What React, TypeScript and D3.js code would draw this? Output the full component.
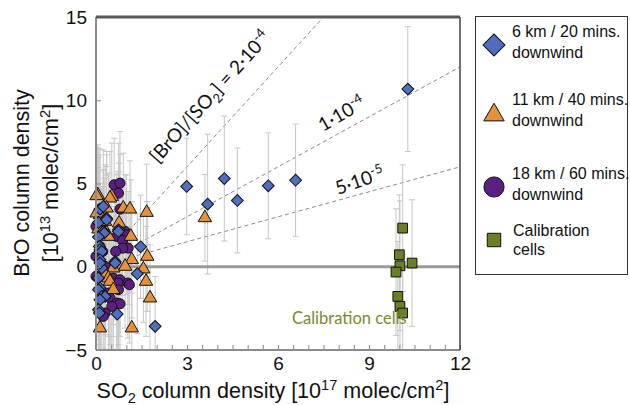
import React, { useEffect, useRef } from 'react';
import * as d3 from 'd3';

// [SO2 (1e17), BrO (1e13), BrO error]
type Pt = [number, number, number];

const km6: Pt[] = [
  [0.13, 3.46, 3.6], [0.24, 3.62, 3.4], [0.35, 2.92, 3.8], [0.08, 2.66, 3.9], [0.35, 2.82, 3.2],
  [0.24, 2.12, 3.7], [0.74, 2.22, 3.5], [0.74, 2.12, 3.0], [0.27, 2.02, 3.3], [0.08, 1.78, 3.9],
  [0.11, 1.22, 3.6], [0.13, 1.02, 3.2], [0.19, 0.92, 3.8], [0.63, 0.32, 3.1], [0.63, 0.22, 3.4],
  [0.13, 0.42, 3.9], [0.19, -0.08, 3.5], [0.13, 0.22, 3.0], [1.47, 1.2, 3.1], [1.36, -0.42, 3.6],
  [0.08, -0.68, 3.7], [0.13, -1.28, 3.4], [0.08, -1.38, 3.8], [0.19, -1.78, 3.1], [0.3, -1.78, 3.5],
  [0.13, -1.98, 3.9], [0.08, -2.58, 3.6], [0.11, -2.78, 3.2], [0.7, -2.84, 3.4], [1.95, -3.58, 3.0],
  [2.99, 4.82, 2.9], [3.68, 3.76, 4.2], [4.23, 5.3, 3.75], [4.66, 3.98, 3.15], [5.68, 4.86, 3.18],
  [6.58, 5.2, 3.37], [10.28, 10.67, 3.75],
];

const km11: Pt[] = [
  [0.06, 4.32, 3.0], [0.02, 4.26, 2.9], [0.52, 4.22, 3.2], [0.46, 4.12, 2.8], [0.35, 3.52, 3.4],
  [0.9, 3.52, 3.3], [1.12, 3.46, 2.9], [1.67, 3.26, 2.9], [0.08, 3.32, 3.8], [0.13, 3.12, 3.6],
  [0.02, 3.22, 3.9], [0.76, 2.62, 3.6], [0.3, 2.72, 3.4], [0.08, 2.26, 3.7], [0.35, 2.02, 3.5],
  [1.15, 1.82, 3.4], [0.41, 1.82, 3.8], [0.13, 1.02, 3.6], [1.69, 0.62, 3.3], [1.18, 0.42, 3.5],
  [0.96, 0.02, 3.7], [0.57, -0.08, 3.4], [1.56, -0.14, 3.2], [0.3, -0.48, 3.6], [0.41, -0.68, 3.5],
  [0.46, -0.88, 3.8], [1.65, -0.88, 3.3], [0.57, -1.38, 3.6], [1.78, -1.88, 3.2], [0.13, -3.68, 3.4],
  [1.18, -3.68, 3.5], [3.59, 2.94, 2.6],
];

const km18: Pt[] = [
  [0.6, 4.92, 2.8], [0.79, 5.02, 3.1], [0.74, 4.42, 3.0], [0.79, 3.46, 3.3], [0.24, 2.22, 3.6],
  [0.0, 2.42, 3.9], [0.74, 2.12, 3.5], [0.85, 2.02, 3.2], [0.96, 2.12, 3.4], [1.01, 1.92, 3.6],
  [0.68, 1.82, 3.7], [0.88, 1.58, 3.3], [0.13, 1.22, 3.8], [1.06, 1.12, 3.4], [0.88, 1.12, 3.6],
  [0.65, 0.92, 3.5], [0.22, 0.92, 3.9], [0.0, 0.62, 3.7], [0.3, 0.02, 3.8], [0.0, -0.58, 3.6],
  [0.57, -0.68, 3.5], [0.79, -0.78, 3.4], [0.74, -0.98, 3.7], [1.05, -0.98, 3.3], [1.1, -1.08, 3.5],
  [0.74, -1.38, 3.6], [0.41, -1.58, 3.8], [0.46, -1.88, 3.4], [0.68, -2.18, 3.5], [0.79, -2.22, 3.3],
  [0.52, -2.38, 3.6], [0.3, -2.78, 3.4], [0.24, -2.98, 3.7],
];

const calibration: Pt[] = [
  [10.11, 2.32, 3.8], [10.0, 0.72, 3.6], [10.02, 0.06, 3.9], [9.89, -0.32, 3.8],
  [10.42, 0.22, 3.8], [9.95, -1.78, 3.3], [10.02, -2.38, 3.2], [10.11, -2.78, 3.5],
];

const xTicks = [0, 3, 6, 9, 12];
const yTicks = [-5, 0, 5, 10, 15];
const ratios = [2e-4, 1e-4, 5e-5];

const legendItems = [
  { kind: 'diamond', lines: ['6 km / 20 mins.', 'downwind'] },
  { kind: 'triangle', lines: ['11 km / 40 mins.', 'downwind'] },
  { kind: 'circle', lines: ['18 km / 60 mins.', 'downwind'] },
  { kind: 'square', lines: ['Calibration', 'cells'] },
];

const COLORS: Record<string, string> = {
  diamond: '#4f6ec0',
  triangle: '#e5913a',
  circle: '#5a1f80',
  square: '#6a8024',
};

const SANS = '"Liberation Sans", Arial, Helvetica, sans-serif';
const CAL = 'Lato, "Open Sans", sans-serif';

// text with sub/superscript parts
const richText = (sel: any, parts: [string, string][], size: number) => {
  let shift = 0;
  parts.forEach(([t, kind]) => {
    const target = kind === 'sup' ? -0.38 * size : kind === 'sub' ? 0.25 * size : 0;
    sel.append('tspan')
      .attr('dy', target - shift)
      .attr('font-size', kind === 'n' ? size : size * 0.68)
      .text(t);
    shift = target;
  });
};

const symbolPath = (kind: string, size: number) => {
  if (kind === 'diamond') return d3.symbol(d3.symbolSquare, size)();
  if (kind === 'triangle') return d3.symbol(d3.symbolTriangle, size)();
  if (kind === 'circle') return d3.symbol(d3.symbolCircle, size)();
  return d3.symbol(d3.symbolSquare, size)();
};

const App = () => {
  const svgRef = useRef<SVGSVGElement>(null);
  const width = 630;
  const height = 405;

  useEffect(() => {
    const svg = d3.select(svgRef.current);
    svg.selectAll('*').remove();

    const x = d3.scaleLinear().domain([0, 12]).range([96, 460]);
    const y = d3.scaleLinear().domain([-5, 15]).range([350, 17]);

    svg.append('clipPath').attr('id', 'plot-clip')
      .append('rect')
      .attr('x', x(0)).attr('y', y(15))
      .attr('width', x(12) - x(0)).attr('height', y(-5) - y(15));

    const plot = svg.append('g').attr('clip-path', 'url(#plot-clip)');

    // ratio lines
    plot.append('g')
      .selectAll('line')
      .data(ratios)
      .join('line')
      .attr('x1', x(0)).attr('y1', y(0))
      .attr('x2', x(12)).attr('y2', r => y(r * 1e4 * 12))
      .attr('stroke', '#8a8a8a')
      .attr('stroke-width', 1)
      .attr('stroke-dasharray', '4,3');

    // error bars
    const all = [...km18, ...km11, ...km6, ...calibration];
    const bars = plot.append('g')
      .attr('stroke', '#c6c6c6')
      .attr('stroke-width', 1)
      .selectAll('g')
      .data(all)
      .join('g');
    bars.append('line')
      .attr('x1', d => x(d[0])).attr('x2', d => x(d[0]))
      .attr('y1', d => y(d[1] + d[2])).attr('y2', d => y(d[1] - d[2]));
    bars.append('line')
      .attr('x1', d => x(d[0]) - 3).attr('x2', d => x(d[0]) + 3)
      .attr('y1', d => y(d[1] + d[2])).attr('y2', d => y(d[1] + d[2]));
    bars.append('line')
      .attr('x1', d => x(d[0]) - 3).attr('x2', d => x(d[0]) + 3)
      .attr('y1', d => y(d[1] - d[2])).attr('y2', d => y(d[1] - d[2]));

    // zero line
    svg.append('line')
      .attr('x1', x(0)).attr('x2', x(12))
      .attr('y1', y(0)).attr('y2', y(0))
      .attr('stroke', '#9a9a9a')
      .attr('stroke-width', 3);

    const drawSeries = (data: Pt[], kind: string, size: number) => {
      svg.append('g')
        .selectAll('path')
        .data(data)
        .join('path')
        .attr('d', symbolPath(kind, size))
        .attr('transform', d => `translate(${x(d[0])},${y(d[1])})${kind === 'diamond' ? ' rotate(45)' : ''}`)
        .attr('fill', COLORS[kind])
        .attr('stroke', '#111')
        .attr('stroke-width', 1);
    };
    drawSeries(km18, 'circle', 80);
    drawSeries(km11, 'triangle', 78);
    drawSeries(km6, 'diamond', 70);
    drawSeries(calibration, 'square', 95);

    // axes
    const gx = svg.append('g')
      .attr('transform', `translate(0,${y(-5)})`)
      .call(d3.axisBottom(x).tickValues(d3.range(0, 12.01, 0.5)).tickSize(-5).tickFormat(() => ''));
    gx.select('.domain').remove();
    gx.selectAll('line').attr('stroke', '#888');

    const gxl = svg.append('g')
      .attr('transform', `translate(0,${y(-5)})`)
      .call(d3.axisBottom(x).tickValues(xTicks).tickSize(0).tickPadding(7));
    gxl.select('.domain').remove();
    gxl.selectAll('text')
      .attr('font-family', SANS).attr('font-size', 19).attr('fill', '#111');

    const gy = svg.append('g')
      .attr('transform', `translate(${x(0)},0)`)
      .call(d3.axisLeft(y).tickValues(yTicks).tickSize(-5).tickPadding(9));
    gy.select('.domain').remove();
    gy.selectAll('line').attr('stroke', '#888');
    gy.selectAll('text')
      .attr('font-family', SANS).attr('font-size', 19).attr('fill', '#111');

    // frame
    svg.append('line')
      .attr('x1', x(0)).attr('x2', x(0)).attr('y1', y(15)).attr('y2', y(-5))
      .attr('stroke', '#8c8c8c').attr('stroke-width', 2);
    svg.append('line')
      .attr('x1', x(0)).attr('x2', x(12)).attr('y1', y(-5)).attr('y2', y(-5))
      .attr('stroke', '#8c8c8c').attr('stroke-width', 2);
    svg.append('line')
      .attr('x1', x(0)).attr('x2', x(12)).attr('y1', y(15)).attr('y2', y(15))
      .attr('stroke', '#5a5a5a').attr('stroke-width', 3);
    svg.append('line')
      .attr('x1', x(12)).attr('x2', x(12)).attr('y1', y(15)).attr('y2', y(-5))
      .attr('stroke', '#444').attr('stroke-width', 1.5);

    // axis titles
    const xt = svg.append('text')
      .attr('x', 273).attr('y', 398)
      .attr('text-anchor', 'middle')
      .attr('font-family', SANS).attr('fill', '#111');
    richText(xt, [['SO', 'n'], ['2', 'sub'], [' column density [10', 'n'], ['17', 'sup'], [' molec/cm', 'n'], ['2', 'sup'], [']', 'n']], 21.5);

    const yt = svg.append('g').attr('transform', 'translate(0,183) rotate(-90)');
    yt.append('text')
      .attr('x', 0).attr('y', 29)
      .attr('text-anchor', 'middle')
      .attr('font-family', SANS).attr('font-size', 21.5).attr('fill', '#111')
      .text('BrO column density');
    const yt2 = yt.append('text')
      .attr('x', 0).attr('y', 58)
      .attr('text-anchor', 'middle')
      .attr('font-family', SANS).attr('fill', '#111');
    richText(yt2, [['[10', 'n'], ['13', 'sup'], [' molec/cm', 'n'], ['2', 'sup'], [']', 'n']], 21.5);

    // ratio annotations
    const a1 = svg.append('text')
      .attr('transform', 'translate(158,164) rotate(-48)')
      .attr('font-family', CAL).attr('fill', '#111');
    richText(a1, [['[BrO]/[SO', 'n'], ['2', 'sub'], ['] = 2·10', 'n'], ['-4', 'sup']], 19);
    const a2 = svg.append('text')
      .attr('transform', 'translate(323,132) rotate(-30)')
      .attr('font-family', CAL).attr('fill', '#111');
    richText(a2, [['1·10', 'n'], ['-4', 'sup']], 19);
    const a3 = svg.append('text')
      .attr('transform', 'translate(338,195) rotate(-19)')
      .attr('font-family', CAL).attr('fill', '#111');
    richText(a3, [['5·10', 'n'], ['-5', 'sup']], 19);

    svg.append('text')
      .attr('x', 292).attr('y', 324)
      .attr('font-family', CAL).attr('font-size', 16.5)
      .attr('fill', '#7a8a2c')
      .text('Calibration cells');

    // legend
    svg.append('rect')
      .attr('x', 475.5).attr('y', 16.5).attr('width', 152).attr('height', 258)
      .attr('fill', 'none').attr('stroke', '#333').attr('stroke-width', 1);
    const legendY = [45, 113, 187, 240];
    const legendSize: Record<string, number> = { diamond: 240, triangle: 180, circle: 320, square: 180 };
    const lg = svg.append('g')
      .selectAll('g')
      .data(legendItems)
      .join('g')
      .attr('transform', (d, i) => `translate(494,${legendY[i]})`);
    lg.append('path')
      .attr('d', d => symbolPath(d.kind, legendSize[d.kind]))
      .attr('transform', d => (d.kind === 'diamond' ? 'rotate(45)' : d.kind === 'triangle' ? 'translate(0,2)' : ''))
      .attr('fill', d => COLORS[d.kind])
      .attr('stroke', '#111')
      .attr('stroke-width', 1);
    lg.append('text')
      .attr('x', 18)
      .attr('font-family', SANS).attr('font-size', 16).attr('fill', '#111')
      .selectAll('tspan')
      .data((d, i) => d.lines.map((t, j) => ({ t, j, cal: i === 3 })))
      .join('tspan')
      .attr('x', d => (d.cal ? 19 : 18))
      .attr('y', d => (d.cal ? (d.j === 0 ? -4 : 15) : (d.j === 0 ? -8 : 13)))
      .text(d => d.t);
  }, []);

  return <svg ref={svgRef} width={width} height={height} style={{ position: 'absolute', left: 0, top: 0 }}></svg>;
};

export default App;
